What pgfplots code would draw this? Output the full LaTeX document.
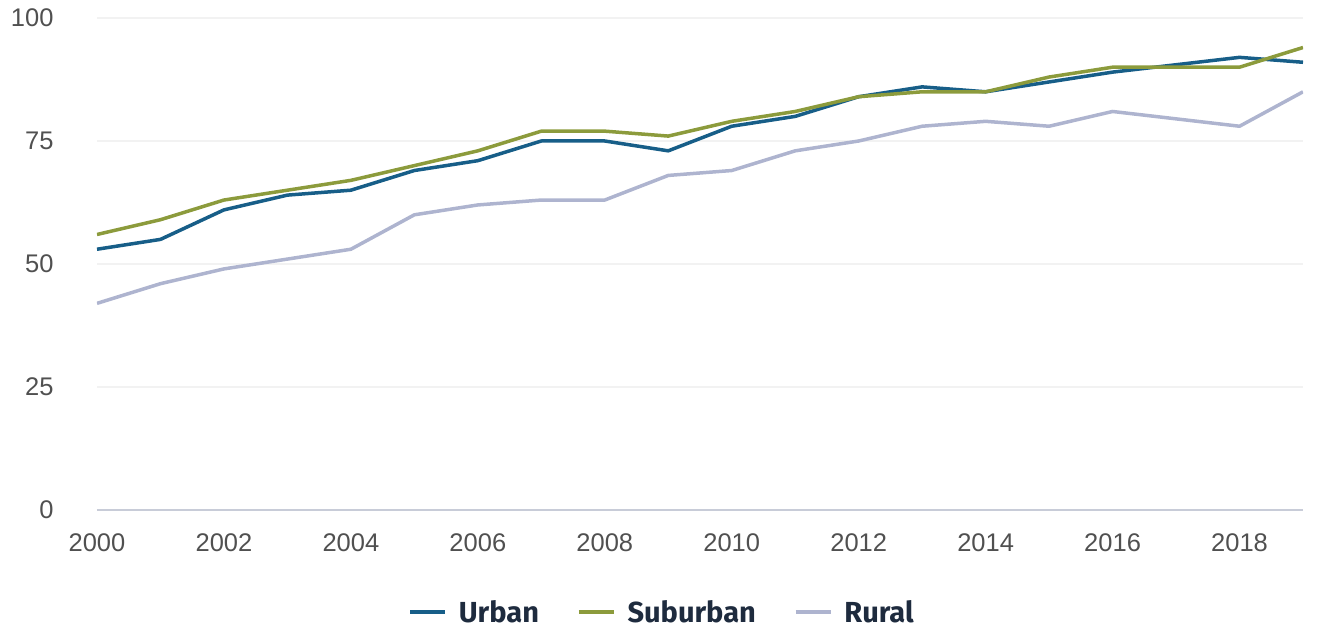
\documentclass[border=0pt]{standalone}
\usepackage{fontspec}
\setmainfont{Liberation Sans}
\newfontfamily\legfont{Fira Sans}
\usepackage{pgfplots}
\pgfplotsset{compat=1.18}
\definecolor{urban}{HTML}{175E88}
\definecolor{suburban}{HTML}{8C9B3C}
\definecolor{rural}{HTML}{AEB4CF}
\definecolor{ticktext}{HTML}{505050}
\definecolor{legtext}{HTML}{1E2B3E}
\definecolor{gridc}{HTML}{F2F2F2}
\definecolor{axisc}{HTML}{C8CCD8}
\begin{document}
\begin{tikzpicture}[x=1pt,y=1pt]
\useasboundingbox (-97,-124) rectangle (1227,510);
\begin{axis}[
  at={(0,0)}, anchor=south west,
  scale only axis, width=1206pt, height=492pt,
  xmin=2000, xmax=2019, ymin=0, ymax=100,
  xtick={2000,2002,...,2018},
  ytick={0,25,50,75,100},
  /pgf/number format/1000 sep={},
  /pgf/number format/assume math mode=true,
  ymajorgrids, grid style={gridc, line width=1.2pt},
  major tick length=0pt,
  axis y line*=left,
  y axis line style={draw=none},
  axis x line*=bottom,
  x axis line style={axisc, line width=1.5pt, -},
  ticklabel style={font=\fontsize{25.5}{30}\selectfont, text=ticktext},
  xticklabel style={yshift=-20pt},
  yticklabel style={anchor=east, xshift=-40pt},
  legend columns=3,
  legend style={draw=none, fill=none, at={(0.4685,-0.207)}, anchor=center,
    font=\legfont\fontsize{29}{34}\selectfont\bfseries, text=legtext,
    /tikz/every even column/.append style={column sep=36pt},
    /tikz/every odd column/.append style={column sep=10pt}},
  legend image code/.code={\draw[#1, line width=3.5pt] (0pt,0pt) -- (35pt,0pt);},
]
\addplot[urban, line width=3.5pt, line join=round] coordinates {
(2000,53)(2001,55)(2002,61)(2003,64)(2004,65)(2005,69)(2006,71)(2007,75)(2008,75)(2009,73)
(2010,78)(2011,80)(2012,84)(2013,86)(2014,85)(2015,87)(2016,89)(2017,90.5)(2018,92)(2019,91)};
\addlegendentry{Urban}
\addplot[suburban, line width=3.5pt, line join=round] coordinates {
(2000,56)(2001,59)(2002,63)(2003,65)(2004,67)(2005,70)(2006,73)(2007,77)(2008,77)(2009,76)
(2010,79)(2011,81)(2012,84)(2013,85)(2014,85)(2015,88)(2016,90)(2017,90)(2018,90)(2019,94)};
\addlegendentry{Suburban}
\addplot[rural, line width=3.5pt, line join=round] coordinates {
(2000,42)(2001,46)(2002,49)(2003,51)(2004,53)(2005,60)(2006,62)(2007,63)(2008,63)(2009,68)
(2010,69)(2011,73)(2012,75)(2013,78)(2014,79)(2015,78)(2016,81)(2017,79.5)(2018,78)(2019,85)};
\addlegendentry{Rural}
\end{axis}
\end{tikzpicture}
\end{document}
